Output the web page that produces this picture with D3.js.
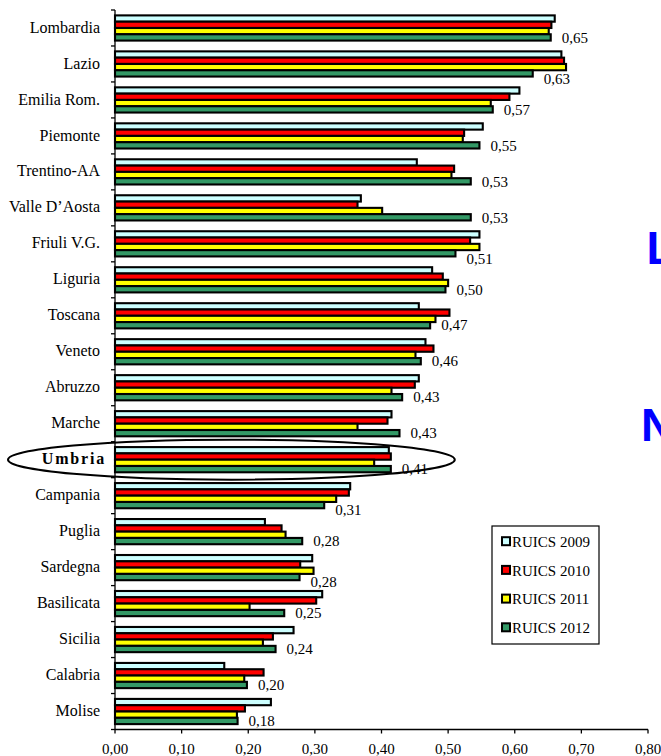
<!DOCTYPE html>
<html><head><meta charset="utf-8">
<script src="https://cdn.jsdelivr.net/npm/d3@7"></script>
<style>body{margin:0;background:#fff;overflow:hidden}</style></head>
<body><svg id="c" width="661" height="756"></svg>
<script>
const regions = ["Lombardia","Lazio","Emilia Rom.","Piemonte","Trentino-AA","Valle D\u2019Aosta","Friuli V.G.","Liguria","Toscana","Veneto","Abruzzo","Marche","Umbria","Campania","Puglia","Sardegna","Basilicata","Sicilia","Calabria","Molise"];
const seriesNames = ["RUICS 2009","RUICS 2010","RUICS 2011","RUICS 2012"];
const ruics2009 = [0.660,0.670,0.607,0.552,0.453,0.369,0.547,0.476,0.456,0.466,0.456,0.415,0.411,0.353,0.225,0.296,0.311,0.268,0.164,0.234];
const ruics2010 = [0.655,0.674,0.592,0.524,0.509,0.364,0.533,0.492,0.502,0.478,0.450,0.409,0.414,0.351,0.250,0.278,0.302,0.237,0.223,0.195];
const ruics2011 = [0.651,0.677,0.564,0.522,0.505,0.401,0.547,0.500,0.481,0.451,0.415,0.364,0.389,0.332,0.256,0.298,0.202,0.222,0.194,0.183];
const ruics2012 = [0.654,0.627,0.567,0.547,0.534,0.534,0.511,0.496,0.473,0.459,0.431,0.427,0.414,0.314,0.281,0.277,0.254,0.241,0.198,0.184];
const valueLabels = ["0,65","0,63","0,57","0,55","0,53","0,53","0,51","0,50","0,47","0,46","0,43","0,43","0,41","0,31","0,28","0,28","0,25","0,24","0,20","0,18"];
const xTicks = [0,0.1,0.2,0.3,0.4,0.5,0.6,0.7,0.8];
const seriesColors = ["#ccffff","#ff0000","#ffff00","#339966"];
const highlighted = "Umbria";
const sideLetters = ["L","N"];

const allSeries = [ruics2009, ruics2010, ruics2011, ruics2012];
const svg = d3.select("#c");
const serif = "'Liberation Serif','DejaVu Serif',serif";

const x = d3.scaleLinear().domain([0, 0.8]).range([115, 648]);
const y = d3.scaleBand().domain(regions).range([10, 729.5]).paddingInner(0.3).paddingOuter(0.15);
const yInner = d3.scaleBand().domain(d3.range(4)).range([0, y.bandwidth()]);
const step = y.step();
const top0 = y.range()[0], bottom0 = y.range()[1];

const loc = d3.formatLocale({decimal: ",", thousands: ".", grouping: [3], currency: ["€",""]});
const fmt = loc.format(".2f");

// bars
const g = svg.append("g");
regions.forEach((r, i) => {
  allSeries.forEach((s, k) => {
    g.append("rect")
      .attr("x", x(0))
      .attr("y", y(r) + yInner(k))
      .attr("width", x(s[i]) - x(0))
      .attr("height", yInner.bandwidth())
      .attr("fill", seriesColors[k])
      .attr("stroke", "#000")
      .attr("stroke-width", 2.1);
  });
});

// axes
svg.append("line").attr("x1", x(0)).attr("x2", x(0)).attr("y1", top0).attr("y2", bottom0).attr("stroke", "#000").attr("stroke-width", 1.3);
svg.append("line").attr("x1", x(0)).attr("x2", x(0.8)).attr("y1", bottom0).attr("y2", bottom0).attr("stroke", "#000").attr("stroke-width", 1.3);
for (let i = 0; i <= regions.length; i++) {
  const yy = top0 + i * step;
  svg.append("line").attr("x1", x(0) - 4).attr("x2", x(0)).attr("y1", yy).attr("y2", yy).attr("stroke", "#000").attr("stroke-width", 1.3);
}
xTicks.forEach(t => {
  svg.append("line").attr("x1", x(t)).attr("x2", x(t)).attr("y1", bottom0).attr("y2", bottom0 + 4).attr("stroke", "#000").attr("stroke-width", 1.3);
  svg.append("text").attr("x", x(t)).attr("y", bottom0 + 24).attr("text-anchor", "middle")
    .attr("font-family", serif).attr("font-size", 15).attr("fill", "#000").text(fmt(t));
});

// category labels
regions.forEach(r => {
  const hl = r === highlighted;
  svg.append("text")
    .attr("x", hl ? x(0) - 9 : x(0) - 15)
    .attr("y", y(r) + y.bandwidth() / 2 - 1)
    .attr("dy", "0.35em")
    .attr("text-anchor", "end")
    .attr("font-family", serif)
    .attr("font-size", 16)
    .attr("font-weight", hl ? "bold" : "normal")
    .attr("letter-spacing", hl ? 1.8 : 0)
    .attr("fill", "#000")
    .text(r);
});

// value labels (2012)
regions.forEach((r, i) => {
  const xs = x(ruics2012[i]) + 11;
  const shift = x(ruics2011[i]) > xs ? 5 : 0;
  svg.append("text")
    .attr("x", xs)
    .attr("y", y(r) + yInner(3) + yInner.bandwidth() / 2 + shift)
    .attr("dy", "0.35em")
    .attr("font-family", serif)
    .attr("font-size", 15)
    .attr("fill", "#000")
    .text(valueLabels[i]);
});

// highlight ellipse
const cyU = y(highlighted) + y.bandwidth() / 2;
const leftE = 8, rightE = x(0.51);
svg.append("ellipse")
  .attr("cx", (leftE + rightE) / 2).attr("cy", cyU)
  .attr("rx", (rightE - leftE) / 2).attr("ry", 20)
  .attr("fill", "none").attr("stroke", "#000").attr("stroke-width", 2);

// legend
const lg = svg.append("g");
lg.append("rect").attr("x", 492).attr("y", 526).attr("width", 107).attr("height", 118)
  .attr("fill", "#fff").attr("stroke", "#000").attr("stroke-width", 1.2);
seriesNames.forEach((n, k) => {
  const cy = 541.7 + k * 28.7;
  lg.append("rect").attr("x", 502).attr("y", cy - 4.5).attr("width", 8).attr("height", 8)
    .attr("fill", seriesColors[k]).attr("stroke", "#000").attr("stroke-width", 2);
  lg.append("text").attr("x", 512).attr("y", cy).attr("dy", "0.35em")
    .attr("font-family", serif).attr("font-size", 15).attr("fill", "#000").text(n);
});

// partial slide letters at right edge (clipped by the frame, as in the reference)
svg.append("text").attr("x", 646.5).attr("y", 264).attr("font-family", "'Liberation Sans',Arial,sans-serif")
  .attr("font-weight", "bold").attr("font-size", 46).attr("fill", "#0000ff").text(sideLetters[0]);
svg.append("text").attr("x", 641).attr("y", 441).attr("font-family", "'Liberation Sans',Arial,sans-serif")
  .attr("font-weight", "bold").attr("font-size", 46).attr("fill", "#0000ff").text(sideLetters[1]);
</script>
</body></html>
